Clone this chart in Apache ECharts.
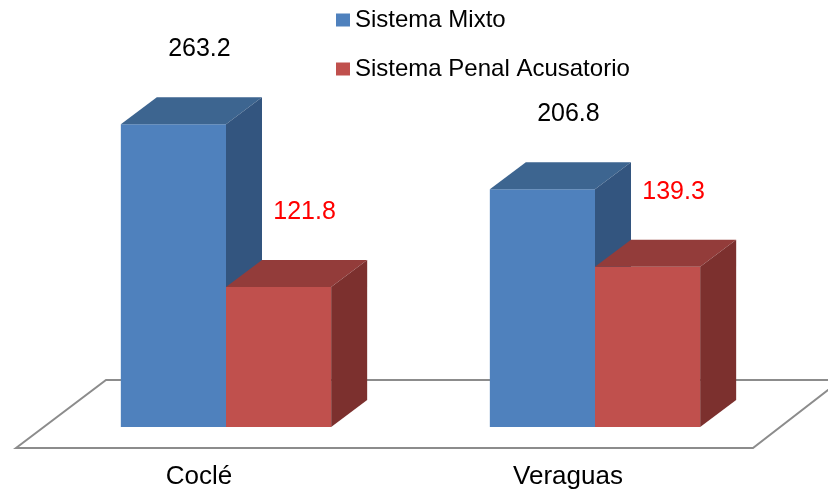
<!DOCTYPE html>
<html>
<head>
<meta charset="utf-8">
<script src="https://cdn.jsdelivr.net/npm/echarts@6/dist/echarts.min.js"></script>
<style>html,body{margin:0;padding:0;background:#fff}#c{width:828px;height:492px}</style>
</head>
<body>
<div id="c"></div>
<script>
const categories = ['Coclé', 'Veraguas'];
const seriesNames = ['Sistema Mixto', 'Sistema Penal Acusatorio'];
const sistemaMixto = [263.2, 206.8];
const sistemaPenal = [121.8, 139.3];

const FONT = "'Liberation Sans', Arial, sans-serif";
const palette = [
  { front: '#4F81BD', top: '#3D6590', side: '#33557F', label: '#000000' },
  { front: '#C0504D', top: '#933C3A', side: '#7C302E', label: '#FF0000' }
];
const DX = 36, DY = -27;

function barRender(sideIdx) {
  const c = palette[sideIdx];
  return function (params, api) {
    const cat = api.value(0), val = api.value(1);
    const base = api.coord([cat, 0]);
    const top = api.coord([cat, val]);
    const band = api.size([1, 0])[0];
    const w = band * 0.285;
    const x0 = sideIdx === 0 ? base[0] - w : base[0];
    const x1 = x0 + w;
    const yb = base[1], yt = top[1];
    return {
      type: 'group',
      children: [
        { type: 'polygon', shape: { points: [[x0, yt], [x1, yt], [x1, yb], [x0, yb]] }, style: { fill: c.front } },
        { type: 'polygon', shape: { points: [[x0, yt], [x0 + DX, yt + DY], [x1 + DX, yt + DY], [x1, yt]] }, style: { fill: c.top } },
        { type: 'polygon', shape: { points: [[x1, yt], [x1 + DX, yt + DY], [x1 + DX, yb + DY], [x1, yb]] }, style: { fill: c.side } },
        { type: 'text', style: { x: (x0 + x1) / 2 + 26, y: yt - 75, text: String(val), fill: c.label, font: '25px ' + FONT, align: 'center', verticalAlign: 'middle' } }
      ]
    };
  };
}

function floorRender(params, api) {
  const cs = params.coordSys;
  const yb = api.coord([0, 0])[1];
  const yf = yb + 21, yk = yb - 47;
  const L = cs.x, R = cs.x + cs.width;
  return {
    type: 'polygon',
    shape: { points: [[L - 25.5, yf], [L + 64.5, yk], [R + 61.5, yk], [R - 26.5, yf]] },
    style: { fill: 'none', stroke: '#8C8C8C', lineWidth: 2 }
  };
}

const chart = echarts.init(document.getElementById('c'), null, { renderer: 'canvas' });
chart.setOption({
  animation: false,
  backgroundColor: '#ffffff',
  textStyle: { fontFamily: FONT },
  legend: {
    data: seriesNames,
    orient: 'vertical',
    left: 336,
    top: 8,
    padding: 0,
    icon: 'rect',
    itemWidth: 14,
    itemHeight: 13,
    itemGap: 25,
    textStyle: { fontSize: 24, color: '#000', fontFamily: FONT, lineHeight: 24, padding: [0, 0, 0, 0] },
    selectedMode: false
  },
  grid: { left: 41.5, right: 48.5, top: 82, bottom: 65 },
  xAxis: {
    type: 'category',
    data: categories,
    axisLine: { show: false },
    axisTick: { show: false },
    axisLabel: { margin: 37, fontSize: 26, color: '#000', fontFamily: FONT, padding: [0, 54, 0, 0] }
  },
  yAxis: { type: 'value', min: 0, max: 300, show: false, splitLine: { show: false } },
  series: [
    { type: 'custom', name: 'floor', renderItem: floorRender, data: [[0, 0]], silent: true, z: 1 },
    { type: 'custom', name: seriesNames[0], renderItem: barRender(0), itemStyle: { color: palette[0].front },
      data: categories.map((c, i) => [i, sistemaMixto[i]]), z: 2 },
    { type: 'custom', name: seriesNames[1], renderItem: barRender(1), itemStyle: { color: palette[1].front },
      data: categories.map((c, i) => [i, sistemaPenal[i]]), z: 3 }
  ]
});
</script>
</body>
</html>
